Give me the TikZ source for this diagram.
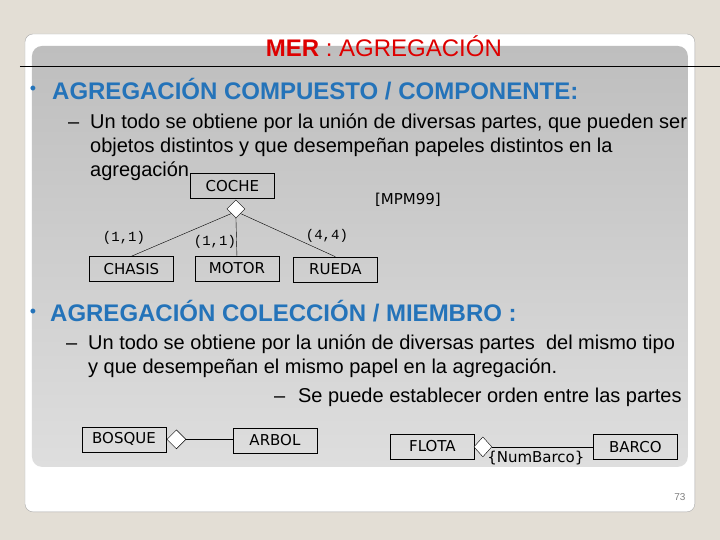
\documentclass[tikz,border=0pt]{standalone}
\usepackage{fontspec}
\setmainfont{Liberation Sans}
\newfontfamily\diafont{DejaVu Sans}
\setmonofont{Liberation Mono}
\usetikzlibrary{shapes.geometric}

\definecolor{pagebg}{RGB}{227,222,213}
\definecolor{titlered}{RGB}{222,0,0}
\definecolor{headblue}{RGB}{36,115,185}
\definecolor{panetop}{RGB}{190,190,190}
\definecolor{panebot}{RGB}{222,222,222}

\begin{document}
\begin{tikzpicture}[x=1pt, y=-1pt,
    entity/.style={draw, rectangle, minimum width=84pt, minimum height=25pt, inner sep=0pt, font=\diafont\fontsize{15}{15}\selectfont},
    agg/.style={draw, diamond, fill=white, inner sep=0pt, minimum width=18pt, minimum height=18pt},
    card/.style={inner sep=0pt, font=\ttfamily\fontsize{14}{14}\selectfont},
    txt/.style={anchor=base west, inner sep=0pt, font=\fontsize{20}{20}\selectfont},
    head/.style={anchor=base west, inner sep=0pt, text=headblue, font=\bfseries\fontsize{24}{24}\selectfont},
    dot/.style={inner sep=0pt, text=headblue, font=\fontsize{18}{18}\selectfont}]

    % Slide
    \fill[pagebg] (0,0) rectangle (720,540);
    \fill[white, draw=gray!70, rounded corners=8pt] (25,34) rectangle (695,512);
    \shade[top color=panetop, bottom color=panebot, rounded corners=10pt] (32,46) rectangle (688,467);
    \draw (20,66) -- (720,66);

    % Title
    \node[anchor=base, inner sep=0pt, text=titlered, font=\fontsize{24}{24}\selectfont] (title) at (384,57) {\textbf{MER} : AGREGACIÓN};

    % First bullet
    \node[dot] (b1) at (33,90) {•};
    \node[head] (h1) at (52,100) {AGREGACIÓN COMPUESTO / COMPONENTE:};
    \node[txt] (d1) at (68,129) {–};
    \node[txt] (l1) at (90,129) {Un todo se obtiene por la unión de diversas partes, que pueden ser};
    \node[txt] (l2) at (90,153) {objetos distintos y que desempeñan papeles distintos en la};
    \node[txt] (l3) at (90,177) {agregación};

    % Compuesto / componente
    \node[entity] (coche) at (232.5,186) {COCHE};
    \node[agg] (a1) at (236,209) {};
    \node[entity] (chasis) at (131.5,269) {CHASIS};
    \node[entity] (motor) at (237,268.5) {MOTOR};
    \node[entity] (rueda) at (335.5,269.5) {RUEDA};
    \node[inner sep=0pt, font=\diafont\fontsize{15}{15}\selectfont] (ref) at (408,200) {[MPM99]};

    \node[card] (c1) at (124,238) {(1,1)};
    \node[card] (c2) at (215,242) {(1,1)};
    \node[card] (c3) at (327,236) {(4,4)};

    \draw (a1.south) -- (motor.north);
    \draw (a1.south west) -- (chasis.north);
    \draw (a1.south east) -- (rueda.north);

    % Second bullet
    \node[dot] (b2) at (33,313) {•};
    \node[head] (h2) at (50,322) {AGREGACIÓN COLECCIÓN / MIEMBRO :};
    \node[txt] (d2) at (66,350) {–};
    \node[txt] (m1) at (88,350) {Un todo se obtiene por la unión de diversas partes\ \ del mismo tipo};
    \node[txt] (m2) at (88,374) {y que desempeñan el mismo papel en la agregación.};
    \node[txt] (d3) at (274,403) {–};
    \node[txt] (m3) at (298,403) {Se puede establecer orden entre las partes};

    % Coleccion / miembro
    \node[entity] (bosque) at (124,439.5) {BOSQUE};
    \node[agg, minimum width=19pt, minimum height=19pt] (a2) at (176.5,439.5) {};
    \node[entity] (arbol) at (275,440.5) {ARBOL};
    \draw (a2.east) -- (arbol.west |- a2.east);

    \node[entity] (flota) at (432.5,446.5) {FLOTA};
    \node[agg, minimum height=20pt] (a3) at (483,447) {};
    \node[entity] (barco) at (635.5,447) {BARCO};
    \draw (a3.east) -- (barco.west |- a3.east);
    \node[inner sep=0pt, font=\diafont\fontsize{15}{15}\selectfont] (nb) at (536,458) {\{NumBarco\}};

    % Page number
    \node[inner sep=0pt, text=gray, font=\fontsize{10}{10}\selectfont] (pg) at (680,497) {73};

    \useasboundingbox (0,0) rectangle (720,540);
\end{tikzpicture}
\end{document}
